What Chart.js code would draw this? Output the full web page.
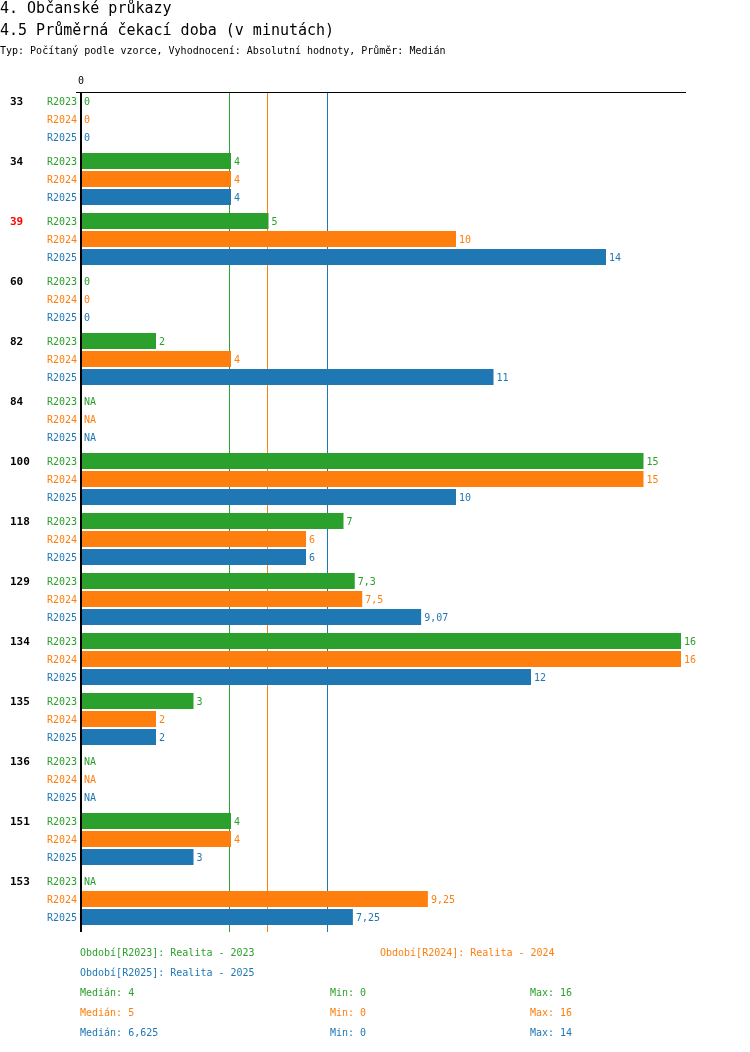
<!DOCTYPE html>
<html lang="cs">
<head>
<meta charset="utf-8">
<title>4.5 Průměrná čekací doba</title>
<script src="https://cdn.jsdelivr.net/npm/chart.js@4/dist/chart.umd.min.js"></script>
<style>
  html, body { margin: 0; padding: 0; background: #fff; }
  body { width: 750px; height: 1052px; position: relative; overflow: hidden;
         font-family: "DejaVu Sans Mono", monospace; }
  #lienzo { position: absolute; left: 0; top: 0; }
  .t { position: absolute; white-space: pre; }
  .h1 { font-size: 15px; line-height: 16px; font-weight: normal; color: #000; }
  .sub { font-size: 10px; line-height: 12px; color: #000; }
  .f { font-size: 10px; line-height: 12px; }
</style>
</head>
<body>
<canvas id="lienzo" width="750" height="1052"></canvas>
<div class="t h1" style="left:0px;top:0px">4. Občanské průkazy</div>
<div class="t h1" style="left:0px;top:22px">4.5 Průměrná čekací doba (v minutách)</div>
<div class="t sub" style="left:0px;top:45px">Typ: Počítaný podle vzorce, Vyhodnocení: Absolutní hodnoty, Průměr: Medián</div>
<div id="paticka"></div>
<script>
"use strict";

// kategorie (pracoviště) a hodnoty za období, null = NA
const kategorie = ["33", "34", "39", "60", "82", "84", "100", "118", "129", "134", "135", "136", "151", "153"];
const zvyraznene = ["39"];
const obdobi = ["R2023", "R2024", "R2025"];
const popisObdobi = ["Realita - 2023", "Realita - 2024", "Realita - 2025"];
const hodnoty2023 = [0, 4, 5, 0, 2, null, 15, 7, 7.3, 16, 3, null, 4, null];
const hodnoty2024 = [0, 4, 10, 0, 4, null, 15, 6, 7.5, 16, 2, null, 4, 9.25];
const hodnoty2025 = [0, 4, 14, 0, 11, null, 10, 6, 9.07, 12, 2, null, 3, 7.25];
const osaTicky = [0];

const barvy = ["#2ca02c", "#ff7f0e", "#1f77b4"];
const serie = [hodnoty2023, hodnoty2024, hodnoty2025];
const PISMO = '"DejaVu Sans Mono", monospace';

const cislo = (v) => String(v).replace(".", ",");

function median(arr) {
  const s = arr.filter((v) => v !== null).sort((a, b) => a - b);
  const m = Math.floor(s.length / 2);
  return s.length % 2 ? s[m] : (s[m - 1] + s[m]) / 2;
}
const mediany = serie.map(median);
const minima = serie.map((a) => Math.min(...a.filter((v) => v !== null)));
const maxima = serie.map((a) => Math.max(...a.filter((v) => v !== null)));

/* ── Čáry mediánů (pod sloupci) ───────────────────────────── */
const medianPlugin = {
  id: "mediany",
  beforeDatasetsDraw(chart) {
    const { ctx, chartArea, scales } = chart;
    const top = chartArea.top + 3;
    const bottom = chartArea.bottom + 3;
    ctx.save();
    ctx.lineWidth = 1;
    mediany.forEach((m, i) => {
      const x = Math.round(scales.x.getPixelForValue(m)) - 1.5;
      ctx.strokeStyle = barvy[i];
      ctx.beginPath();
      ctx.moveTo(x, top);
      ctx.lineTo(x, bottom);
      ctx.stroke();
    });
    ctx.restore();
  },
};

/* ── Osy, popisky a hodnoty ───────────────────────────── */
const popiskyPlugin = {
  id: "popisky",
  afterDatasetsDraw(chart) {
    const { ctx, chartArea, scales } = chart;
    const x0 = scales.x.getPixelForValue(0);
    const top = chartArea.top + 3;
    const bottom = chartArea.bottom + 3;
    ctx.save();

    // horní osa
    ctx.strokeStyle = "#000";
    ctx.lineWidth = 1;
    ctx.beginPath();
    ctx.moveTo(chartArea.left - 5, top + 0.5);
    ctx.lineTo(chartArea.right + 5, top + 0.5);
    ctx.stroke();

    // svislá osa nula
    ctx.lineWidth = 2;
    ctx.beginPath();
    ctx.moveTo(x0, top);
    ctx.lineTo(x0, bottom);
    ctx.stroke();

    ctx.font = "10px " + PISMO;
    ctx.fillStyle = "#000";
    ctx.textAlign = "center";
    ctx.textBaseline = "middle";
    osaTicky.forEach((t) => {
      ctx.fillText(String(t), scales.x.getPixelForValue(t), top - 11);
    });

    serie.forEach((data, d) => {
      const meta = chart.getDatasetMeta(d);
      meta.data.forEach((el, i) => {
        const y = el.y + 1;
        ctx.fillStyle = barvy[d];
        ctx.font = "10px " + PISMO;
        ctx.textAlign = "right";
        ctx.fillText(obdobi[d], x0 - 4, y);
        ctx.textAlign = "left";
        const v = data[i];
        const xe = v === null ? x0 : scales.x.getPixelForValue(v);
        ctx.fillText(v === null ? "NA" : cislo(v), xe + 3, y);
        if (d === 0) {
          ctx.font = "bold 11px " + PISMO;
          ctx.fillStyle = zvyraznene.includes(kategorie[i]) ? "#ff0000" : "#000";
          ctx.fillText(kategorie[i], 10, y);
        }
      });
    });
    ctx.restore();
  },
};

const grafico = new Chart(document.getElementById("lienzo").getContext("2d"), {
  type: "bar",
  data: {
    labels: kategorie,
    datasets: serie.map((data, d) => ({
      label: obdobi[d],
      data: data,
      backgroundColor: barvy[d],
      borderWidth: 0,
      categoryPercentage: 0.9,
      barPercentage: 16 / 18,
    })),
  },
  options: {
    indexAxis: "y",
    responsive: false,
    animation: false,
    devicePixelRatio: 1,
    layout: { padding: { left: 81, right: 69, top: 89, bottom: 123 } },
    plugins: { legend: { display: false }, tooltip: { enabled: false } },
    scales: {
      x: { display: false, min: 0, max: 16 },
      y: { display: false },
    },
  },
  plugins: [medianPlugin, popiskyPlugin],
});

/* ── Patička: legenda a statistiky ───────────────────────────── */
const paticka = document.getElementById("paticka");
function text(s, x, y, barva) {
  const el = document.createElement("div");
  el.className = "t f";
  el.style.left = x + "px";
  el.style.top = (y - 6) + "px";
  el.style.color = barva;
  el.textContent = s;
  paticka.appendChild(el);
}
const legendaPozice = [[80, 953], [380, 953], [80, 973]];
obdobi.forEach((o, d) => {
  text("Období[" + o + "]: " + popisObdobi[d], legendaPozice[d][0], legendaPozice[d][1], barvy[d]);
  const y = 993 + d * 20;
  text("Medián: " + cislo(mediany[d]), 80, y, barvy[d]);
  text("Min: " + cislo(minima[d]), 330, y, barvy[d]);
  text("Max: " + cislo(maxima[d]), 530, y, barvy[d]);
});
</script>
</body>
</html>
